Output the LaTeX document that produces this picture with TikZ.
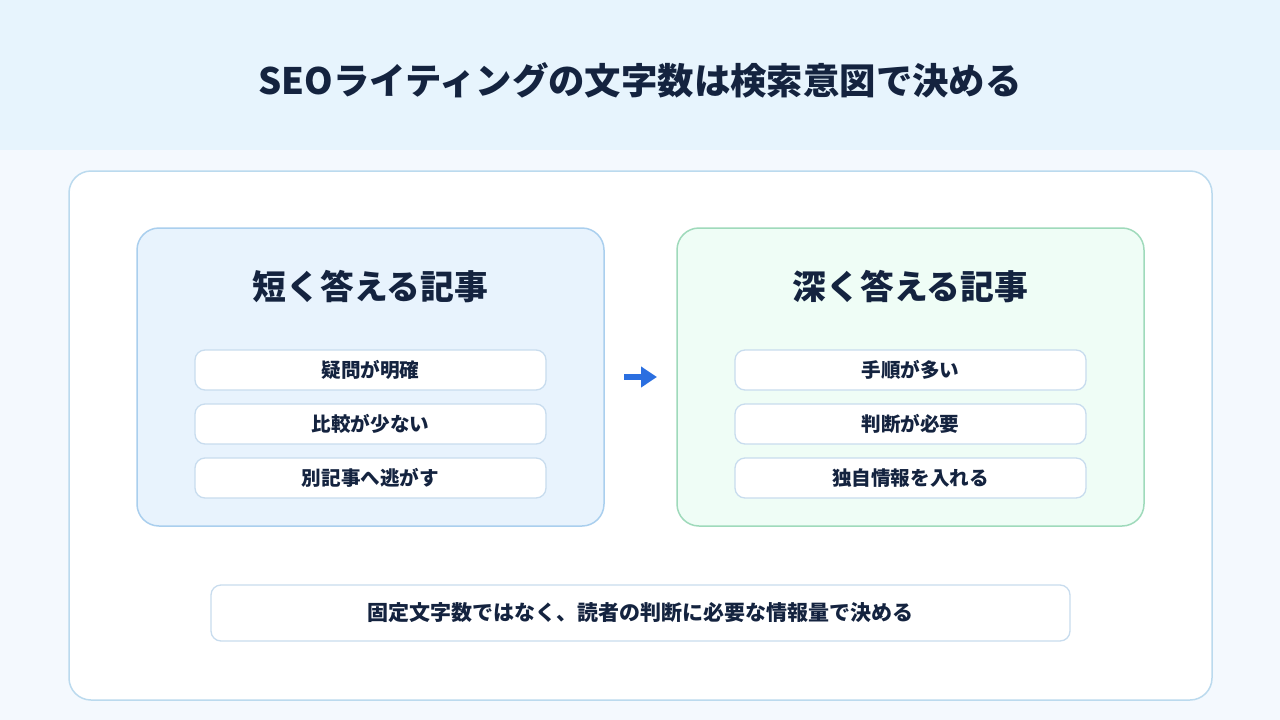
\documentclass[tikz,border=0pt]{standalone}
\usepackage{fontspec}
\setmainfont{Noto Sans CJK JP}
\usetikzlibrary{arrows.meta}
\definecolor{inkc}{HTML}{14233F}
\definecolor{headbg}{HTML}{E7F4FD}
\definecolor{pagebg}{HTML}{F4F9FE}
\definecolor{panelline}{HTML}{BBDAEE}
\definecolor{shortbg}{HTML}{E8F3FD}
\definecolor{shortline}{HTML}{AACFEE}
\definecolor{deepbg}{HTML}{EFFDF6}
\definecolor{deepline}{HTML}{9FDABB}
\definecolor{itemline}{HTML}{C8DCEE}
\definecolor{arrowc}{HTML}{2B6FE0}

\begin{document}
\begin{tikzpicture}[x=1pt, y=-1pt,
    every node/.style={text=inkc, font=\bfseries},
    card/.style={rounded corners=22pt, line width=1.5pt},
    item/.style={draw=itemline, fill=white, rounded corners=10pt,
                 line width=1.3pt, minimum width=351pt, minimum height=40pt,
                 font=\fontsize{19.6}{23}\bfseries},
    cardtitle/.style={font=\fontsize{33.8}{40}\bfseries}]
  \useasboundingbox (0,0) rectangle (1280,720);
  \fill[pagebg] (0,0) rectangle (1280,720);
  \fill[headbg] (0,0) rectangle (1280,150);
  \node[font=\fontsize{36.4}{44}\bfseries] (title) at (640,80)
    {SEOライティングの文字数は検索意図で決める};
  % outer panel
  \draw[card, draw=panelline, fill=white] (69,171) rectangle (1212,700);
  % short answer
  \draw[card, draw=shortline, fill=shortbg] (137,228) rectangle (604,526);
  \node[cardtitle] (short) at (370.5,287) {短く答える記事};
  \node[item] (s1) at (370.5,370) {疑問が明確};
  \node[item] (s2) at (370.5,424) {比較が少ない};
  \node[item] (s3) at (370.5,478) {別記事へ逃がす};
  % deep answer
  \draw[card, draw=deepline, fill=deepbg] (677,228) rectangle (1144,526);
  \node[cardtitle] (deep) at (910.5,287) {深く答える記事};
  \node[item] (d1) at (910.5,370) {手順が多い};
  \node[item] (d2) at (910.5,424) {判断が必要};
  \node[item] (d3) at (910.5,478) {独自情報を入れる};
  % arrow
  \coordinate (a1) at (624,377);
  \coordinate (a2) at (657,377);
  \draw[arrowc, line width=6pt, -{Triangle[length=16pt,width=20pt]}] (a1) -- (a2);
  % bottom note
  \node[item, minimum width=859pt, minimum height=56pt,
        font=\fontsize{21}{25}\bfseries] (note) at (640.5,613)
    {固定文字数ではなく、読者の判断に必要な情報量で決める};
\end{tikzpicture}
\end{document}
